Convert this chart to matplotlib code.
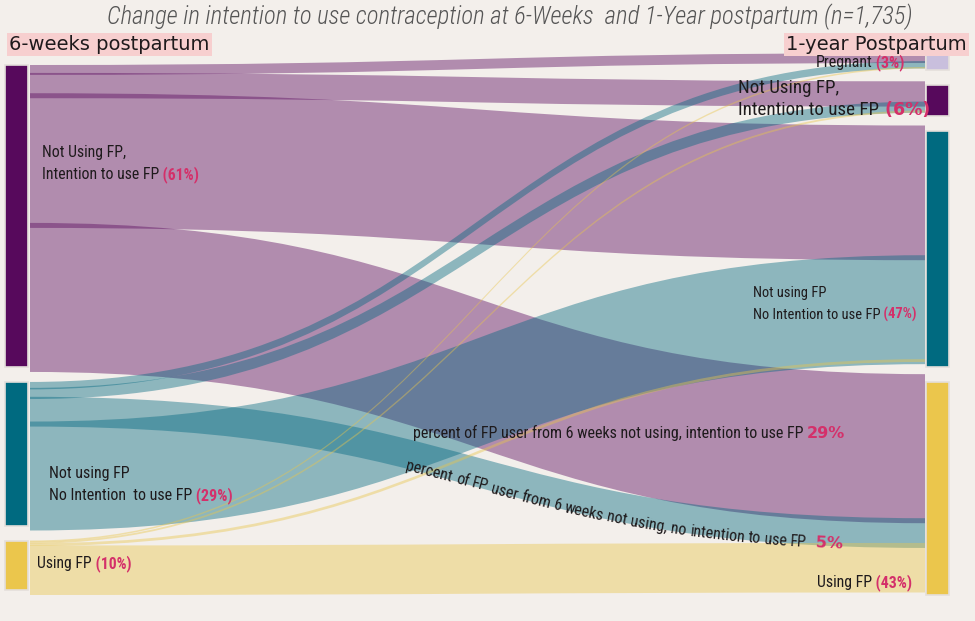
import matplotlib
matplotlib.use("Agg")
import matplotlib.pyplot as plt
import numpy as np
from matplotlib import font_manager
from matplotlib.font_manager import FontProperties
from matplotlib.patches import PathPatch, Rectangle
from matplotlib.path import Path

# shares are percent of all women (n=1,735)
title = "Change in intention to use contraception at 6-Weeks  and 1-Year postpartum (n=1,735)"
left_header = "6-weeks postpartum"
right_header = "1-year Postpartum"

left_keys = ["nui", "nni", "use"]
right_keys = ["preg", "nui", "nni", "use"]

left_lines = [["Not Using FP,", "Intention to use FP"],
              ["Not using FP", "No Intention  to use FP"],
              ["Using FP"]]
left_pct = ["(61%)", "(29%)", "(10%)"]
right_lines = [["Pregnant"],
               ["Not Using FP,", "Intention to use FP"],
               ["Not using FP", "No Intention to use FP"],
               ["Using FP"]]
right_pct = ["(3%)", "(6%)", "(47%)", "(43%)"]

# flows 6 weeks -> 1 year, in the order they leave each left node
link_src = ["nui", "nui", "nui", "nui",
            "nni", "nni", "nni", "nni",
            "use", "use", "use", "use"]
link_tgt = ["preg", "nui", "nni", "use",
            "preg", "nui", "use", "nni",
            "preg", "nui", "nni", "use"]
link_val = [1.6, 4.1, 26.2, 29.1,
            1.2, 1.8, 5.0, 21.0,
            0.25, 0.3, 0.45, 9.0]

note_1 = "percent of FP user from 6 weeks not using, intention to use FP"
note_1_pct = "29%"
note_2 = "percent of FP user from 6 weeks not using, no intention to use FP"
note_2_pct = "5%"

# ---- style / layout
BG = "#f3efeb"
PINK = "#d4306a"
INK = "#1e1a1c"
node_col = {"nui": "#57095c", "nni": "#006a80", "use": "#ebc64c", "preg": "#c9bfdd"}
link_col = {"nui": ("#5b0a5f", 0.43), "nni": ("#00677f", 0.42), "use": ("#e9c54b", 0.42)}

PX = 4.95                      # pixels per percent
LEFT_X, RIGHT_X, NODE_W = 5, 926, 23
LEFT_TOP, RIGHT_TOP = 65, 55
LEFT_GAP, RIGHT_GAP = 15, 15
X0, X1 = LEFT_X + NODE_W + 2, RIGHT_X - 1

# label placement: (x, baseline, align, width of last line)
left_place = [(42, 157, "left", 155), (49, 478, "left", 183), (37, 568, "left", 93)]
right_place = [(905, 67, "right", 89), (738, 93, "left", 140),
               (753, 297, "left", 162), (912, 587, "right", 95)]

names = {f.name for f in font_manager.fontManager.ttflist}
narrow = next((n for n in ["Roboto Condensed", "Liberation Sans Narrow", "Open Sans Condensed"]
               if n in names), "Roboto")

fig = plt.figure(figsize=(9.75, 6.21), dpi=100, facecolor=BG)
ax = fig.add_axes([0, 0, 1, 1])
ax.set_xlim(0, 975)
ax.set_ylim(621, 0)
ax.axis("off")
renderer = fig.canvas.get_renderer()


def measure(s, fp):
    # width of s in pixels (trailing spaces kept)
    w1 = renderer.get_text_width_height_descent(s + "x", fp, ismath=False)[0]
    w2 = renderer.get_text_width_height_descent("x", fp, ismath=False)[0]
    return w1 - w2


def fit(s, family, target, weight="normal", style="normal"):
    fp = FontProperties(family=family, size=10, weight=weight, style=style)
    fp.set_size(10 * target / measure(s, fp))
    return fp


def put(x, y, parts, ha="left"):
    widths = [measure(t, fp) for t, fp, c in parts]
    if ha == "right":
        x -= sum(widths)
    for (t, fp, c), w in zip(parts, widths):
        ax.text(x, y, t, fontproperties=fp, color=c, ha="left", va="baseline", zorder=5)
        x += w


def bez(p0, p1, p2, p3, t):
    t = t[:, None]
    return ((1 - t) ** 3) * p0 + 3 * (1 - t) ** 2 * t * p1 + 3 * (1 - t) * t ** 2 * p2 + t ** 3 * p3


def band(y0a, y0b, y1a, y1b, color, alpha):
    xm = (X0 + X1) / 2
    verts = [(X0, y0a), (xm, y0a), (xm, y1a), (X1, y1a),
             (X1, y1b), (xm, y1b), (xm, y0b), (X0, y0b), (X0, y0a)]
    codes = [Path.MOVETO, Path.CURVE4, Path.CURVE4, Path.CURVE4,
             Path.LINETO, Path.CURVE4, Path.CURVE4, Path.CURVE4, Path.CLOSEPOLY]
    ax.add_patch(PathPatch(Path(verts, codes), facecolor=color, alpha=alpha,
                           edgecolor="none", zorder=2))


# ---- node geometry from the flows
left_val = {k: sum(v for s, v in zip(link_src, link_val) if s == k) for k in left_keys}
right_val = {k: sum(v for t, v in zip(link_tgt, link_val) if t == k) for k in right_keys}

left_top, y = {}, LEFT_TOP
for k in left_keys:
    left_top[k] = y
    y += left_val[k] * PX + LEFT_GAP
right_top, y = {}, RIGHT_TOP
for k in right_keys:
    right_top[k] = y
    y += right_val[k] * PX + RIGHT_GAP


def extra(w):
    return min(5.0, 0.25 * w)


# link ends: sources stacked in list order, targets by source order
geo = {}
cur = dict(left_top)
for i, (s, v) in enumerate(zip(link_src, link_val)):
    w = v * PX
    geo[i] = [cur[s], cur[s] + w + extra(w)]
    cur[s] += w
order = sorted(range(len(link_val)), key=lambda i: (left_keys.index(link_src[i]), i))
cur = {}
for k in right_keys:
    inc = [extra(v * PX) for t, v in zip(link_tgt, link_val) if t == k]
    cur[k] = right_top[k] - sum(inc) / 2
for i in order:
    t = link_tgt[i]
    w = link_val[i] * PX
    geo[i] += [cur[t], cur[t] + w + extra(w)]
    cur[t] += w

for i in range(len(link_val)):
    c, a = link_col[link_src[i]]
    y0a, y0b, y1a, y1b = geo[i]
    band(y0a, y0b, y1a, y1b, c, a)

for k in left_keys:
    ax.add_patch(Rectangle((LEFT_X, left_top[k]), NODE_W, left_val[k] * PX,
                           facecolor=node_col[k], edgecolor="#e4dfdb", lw=1.2, zorder=3))
for k in right_keys:
    ax.add_patch(Rectangle((RIGHT_X, right_top[k]), NODE_W, right_val[k] * PX,
                           facecolor=node_col[k], edgecolor="#e4dfdb", lw=1.2, zorder=3))

# ---- texts
f_title = fit(title, [narrow, "DejaVu Sans"], 804, weight="light", style="italic")
ax.text(510, 24, title, fontproperties=f_title, color="#555555", ha="center", va="baseline")

f_head = fit(left_header, ["DejaVu Sans"], 200)
ax.text(9, 50, left_header, fontproperties=f_head, color=INK, ha="left", va="baseline",
        bbox=dict(boxstyle="square,pad=0.12", fc="#f7cfcf", ec="none"))
ax.text(967, 50, right_header, fontproperties=f_head, color=INK, ha="right", va="baseline",
        bbox=dict(boxstyle="square,pad=0.12", fc="#f7cfcf", ec="none"))

f_big = FontProperties(family="DejaVu Sans", weight="bold", size=11.5)


def node_label(place, lines, pct, big=False):
    x, y, ha, width = place
    last = lines[-1]
    if big:
        fl = fit(last, [narrow, "DejaVu Sans"], width)
        fp = FontProperties(family="DejaVu Sans", weight="bold", size=12.5)
    else:
        fl = fit(last + " " + pct, [narrow, "DejaVu Sans"], width)
        fp = fl.copy()
        fp.set_weight("bold")
    for j, line in enumerate(lines):
        parts = [(line, fl, INK)]
        if j == len(lines) - 1:
            parts += [(" " + pct, fp, PINK)]
        put(x, y + 22 * j, parts, ha=ha)


for place, lines, pct in zip(left_place, left_lines, left_pct):
    node_label(place, lines, pct)
for place, lines, pct in zip(right_place, right_lines, right_pct):
    node_label(place, lines, pct, big=(pct == "(6%)"))

f_note = fit(note_1, [narrow, "DejaVu Sans"], 390)
put(413, 438, [(note_1 + " ", f_note, INK), (note_1_pct, f_big, PINK)])

# second note follows the lower edge of the 6-week "no intention" -> 1-year "using" flow
i5 = [i for i in range(len(link_val)) if link_src[i] == "nni" and link_tgt[i] == "use"][0]
xm = (X0 + X1) / 2
y0b, y1b = geo[i5][1], geo[i5][3]
tt = np.linspace(0, 1, 2000)
curve = bez(np.array([X0, y0b]), np.array([xm, y0b]), np.array([xm, y1b]), np.array([X1, y1b]), tt)
curve[:, 1] += 2
seg = np.hypot(*np.diff(curve, axis=0).T)
arc = np.concatenate([[0], np.cumsum(seg)])
start = arc[np.searchsorted(curve[:, 0], 405)]


def on_curve(pos):
    j = min(np.searchsorted(arc, pos), len(arc) - 2)
    dx, dy = curve[j + 1] - curve[j]
    return curve[j], np.arctan2(-dy, dx)


words = [(w, f_note, INK) for w in note_2.split(" ")] + [(" " + note_2_pct, f_big, PINK)]
pos = start
for w, fp, col in words:
    width = measure(w, fp)
    (x, y), ang = on_curve(pos)
    (_, _), ang2 = on_curve(pos + width)
    ax.text(x, y, w, fontproperties=fp, color=col, rotation=np.degrees((ang + ang2) / 2),
            rotation_mode="anchor", ha="left", va="baseline", zorder=5)
    pos += width + measure(" ", f_note)

fig.savefig("out.png", dpi=100, facecolor=BG)
